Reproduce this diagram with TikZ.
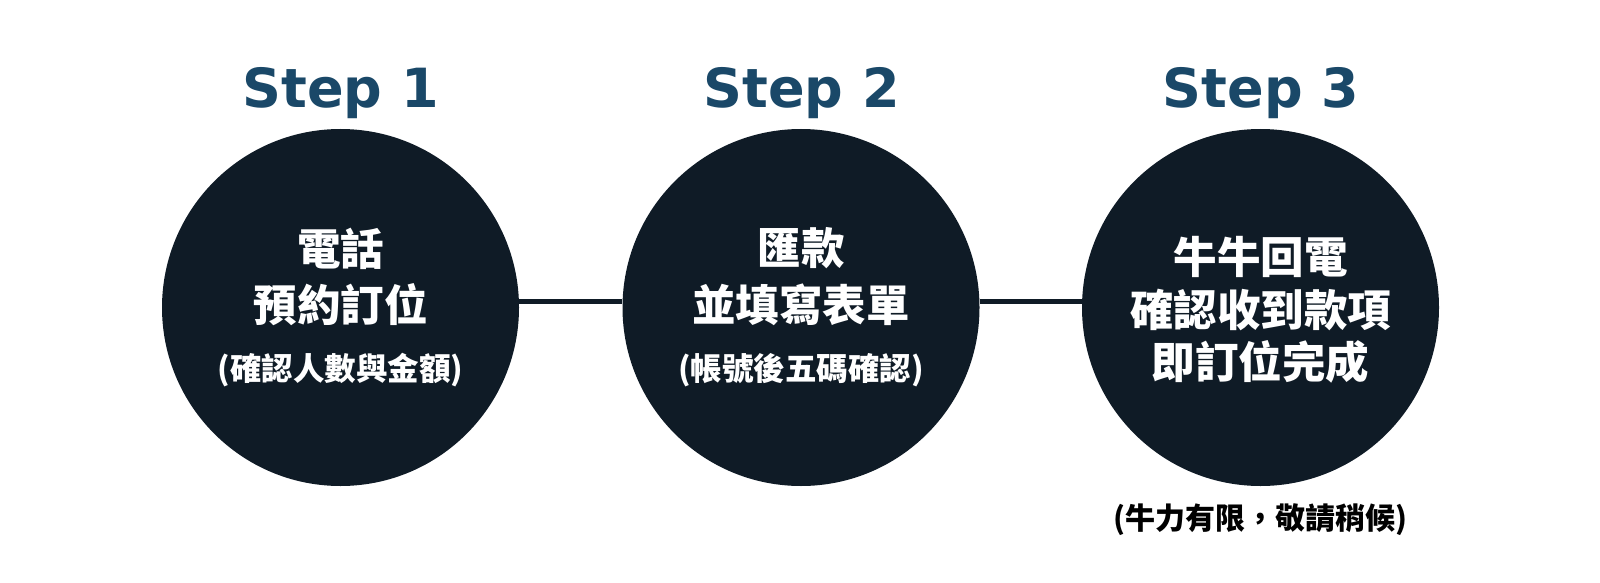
\documentclass[tikz,border=0pt]{standalone}
\usepackage{fontspec}
\newfontfamily\cjkfont{Noto Sans CJK TC}
\newfontfamily\stepfont{DejaVu Sans}
\definecolor{stepblue}{HTML}{1A4868}
\definecolor{circlefill}{HTML}{0F1B26}

\begin{document}
\begin{tikzpicture}[x=1pt,y=-1pt]
      \tikzset{every node/.style={inner sep=0pt},
        stepcircle/.style={circle,fill=circlefill,minimum size=357pt},
        steptitle/.style={font=\stepfont\bfseries\fontsize{54}{60}\selectfont,text=stepblue,anchor=base},
        bigline/.style={font=\cjkfont\bfseries\fontsize{43.5}{50}\selectfont,text=white},
        smallline/.style={font=\cjkfont\bfseries\fontsize{31.5}{36}\selectfont,text=white},
        noteline/.style={font=\cjkfont\bfseries\fontsize{30}{36}\selectfont,text=black},
        link/.style={draw=circlefill,line width=5pt}}
      \useasboundingbox (0,0) rectangle (1600,583);

      % circles
      \node[stepcircle] (c1) at (340.5,307.5) {};
      \node[stepcircle] (c2) at (801,307.5) {};
      \node[stepcircle] (c3) at (1260.5,307.5) {};

      \draw[link] ([yshift=6pt]c1.east) -- ([yshift=6pt]c2.west);
      \draw[link] ([yshift=6pt]c2.east) -- ([yshift=6pt]c3.west);

      % titles
      \node[steptitle] (s1) at (340.5,107.5) {Step 1};
      \node[steptitle] (s2) at (801.5,107.5) {Step 2};
      \node[steptitle] (s3) at (1261,107.5) {Step 3};

      % step 1
      \node[bigline] (a1) at (340.5,248.5) {電話};
      \node[bigline] (b1) at (340.5,305) {預約訂位};
      \node[smallline] (d1) at (340.5,370) {(確認人數與金額)};

      % step 2
      \node[bigline] (a2) at (801,248.5) {匯款};
      \node[bigline] (b2) at (801,305) {並填寫表單};
      \node[smallline] (d2) at (801,370) {(帳號後五碼確認)};

      % step 3
      \node[bigline] (a3) at (1260.5,256.5) {牛牛回電};
      \node[bigline] (b3) at (1260.5,310) {確認收到款項};
      \node[bigline] (d3) at (1260.5,361.5) {即訂位完成};

      \node[noteline] (n3) at (1260.5,520) {(牛力有限，敬請稍候)};
    \end{tikzpicture}
\end{document}
